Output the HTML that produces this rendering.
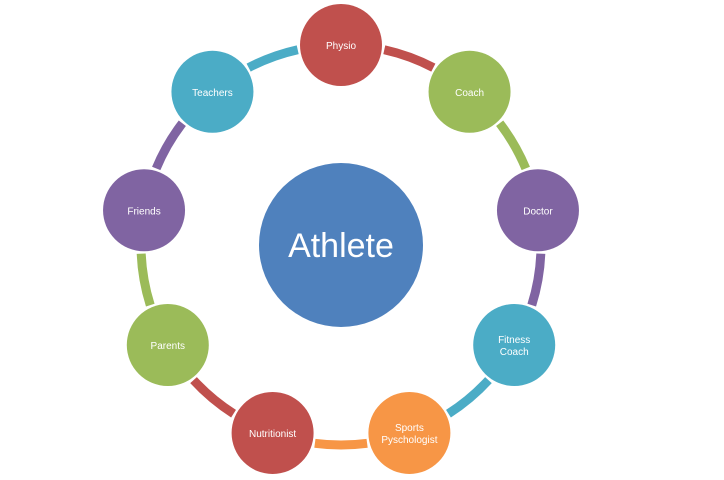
<!DOCTYPE html>
<html><head><meta charset="utf-8"><style>
html,body{margin:0;padding:0;background:#fff;}
svg{display:block;}
text{font-family:"Liberation Sans",sans-serif;fill:#fff;}
</style></head><body>
<svg id="chart" width="724" height="480" viewBox="0 0 724 480"></svg>
<script>
const labels = [["Physio"],["Coach"],["Doctor"],["Fitness","Coach"],["Sports","Pyschologist"],["Nutritionist"],["Parents"],["Friends"],["Teachers"]];
const colors = ["#c0504d","#9bbb59","#8064a2","#4bacc6","#f79646","#c0504d","#9bbb59","#8064a2","#4bacc6"];
const names = ["physio","coach","doctor","fitness-coach","sports-psychologist","nutritionist","parents","friends","teachers"];
const cx=341, cy=245, R=200, r=41;
const svg=document.getElementById('chart');
const NS="http://www.w3.org/2000/svg";
function pt(deg,rad){const a=deg*Math.PI/180;return [cx+rad*Math.sin(a), cy-rad*Math.cos(a)];}
const n=labels.length, step=360/n;
for(let i=0;i<n;i++){
  const a0=i*step+12.5, a1=(i+1)*step-12.5;
  const p0=pt(a0,R), p1=pt(a1,R);
  const p=document.createElementNS(NS,'path');
  p.setAttribute('d',`M${p0[0]},${p0[1]} A${R},${R} 0 0 1 ${p1[0]},${p1[1]}`);
  p.setAttribute('stroke',colors[i]);p.setAttribute('stroke-width','9');p.setAttribute('fill','none');
  
  
  svg.appendChild(p);
}
const c=document.createElementNS(NS,'circle');
c.setAttribute('cx',cx);c.setAttribute('cy',cy);c.setAttribute('r',82);c.setAttribute('fill','#4f81bd');


svg.appendChild(c);
const t=document.createElementNS(NS,'text');
t.setAttribute('x',cx);t.setAttribute('y',cy+12);t.setAttribute('text-anchor','middle');t.setAttribute('font-size','34');
t.textContent='Athlete';


svg.appendChild(t);
for(let i=0;i<n;i++){
  const [x,y]=pt(i*step,R);
  const g=document.createElementNS(NS,'circle');
  g.setAttribute('cx',x);g.setAttribute('cy',y);g.setAttribute('r',r);g.setAttribute('fill',colors[i]);
  
  
  svg.appendChild(g);
  const L=labels[i];
  L.forEach((s,j)=>{
    const tx=document.createElementNS(NS,'text');
    tx.setAttribute('x',x);tx.setAttribute('y',y+4+(j-(L.length-1)/2)*12);
    tx.setAttribute('text-anchor','middle');tx.setAttribute('font-size','10');
    tx.textContent=s;
    
    
    svg.appendChild(tx);
  });
}
</script>
</body></html>
